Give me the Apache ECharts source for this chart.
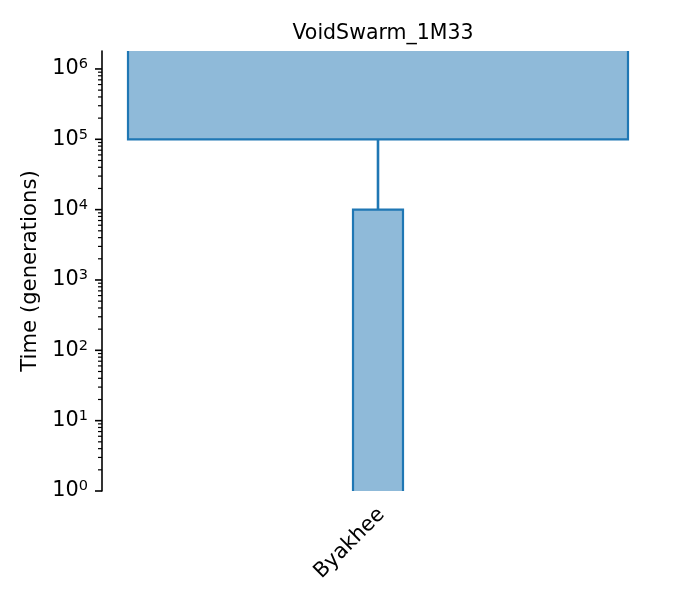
<!DOCTYPE html>
<html>
<head>
<meta charset="utf-8">
<script src="https://cdn.jsdelivr.net/npm/echarts@6/dist/echarts.min.js"></script>
<style>
  html, body { margin: 0; padding: 0; background: #fff; }
  #chart { width: 675px; height: 600px; }
</style>
</head>
<body>
<div id="chart"></div>
<script>
// demes (ancestor first), times in generations ago
const demeNames = ['ancestral', 'Byakhee'];
const demeX = [0, 0];
const demeSize = [10000, 1000];
const demeStartTime = [Infinity, 10000];
const demeEndTime = [100000, 0];
// ancestry link parent -> child
const linkParent = [0];
const linkChild = [1];
// axis
const tickLabelNames = ['Byakhee'];
const yMin = 1;
const yMax = 1.8e6;
const xMin = -5520;
const xMax = 5520;

const fill = '#8fbad9';
const edge = '#1f77b4';
const font = 'DejaVu Sans';

// major / minor ticks on the log axis
const majorTicks = [];
const minorTicks = [];
for (let e = 0; e <= 6; e++) {
    majorTicks.push(Math.pow(10, e));
    for (let m = 2; m <= 9; m++) {
        const v = m * Math.pow(10, e);
        if (v <= yMax) minorTicks.push(v);
    }
}

const chart = echarts.init(document.getElementById('chart'));

const demeData = demeNames.map((n, i) => [
    demeX[i],
    demeSize[i],
    Math.min(demeStartTime[i], yMax),
    Math.max(demeEndTime[i], yMin),
    demeStartTime[i] === Infinity ? 1 : 0,
    demeEndTime[i] === 0 ? 1 : 0
]);

const linkData = [];
linkParent.forEach((p, i) => {
    const c = linkChild[i];
    linkData.push([demeX[p], demeEndTime[p]]);
    linkData.push([demeX[c], demeStartTime[c]]);
});

const tickData = majorTicks.map(v => [v, 1]).concat(minorTicks.map(v => [v, 0]));

const option = {
    animation: false,
    title: {
        text: 'VoidSwarm_1M33',
        left: 378,
        top: 18,
        textAlign: 'center',
        textStyle: { fontFamily: font, fontSize: 20.5, fontWeight: 'normal', color: '#000' }
    },
    grid: { left: 102, right: 21, top: 51, bottom: 109 },
    xAxis: {
        type: 'value',
        min: xMin,
        max: xMax,
        interval: xMax,
        axisLine: { show: false },
        axisTick: { show: false },
        splitLine: { show: false },
        axisLabel: {
            rotate: 45,
            margin: 24,
            padding: [0, -5, 0, 0],
            fontFamily: font,
            fontSize: 20.8,
            color: '#000',
            formatter: v => (v === demeX[1] ? tickLabelNames[0] : '')
        }
    },
    yAxis: {
        type: 'log',
        logBase: 10,
        min: yMin,
        max: yMax,
        name: 'Time (generations)',
        nameLocation: 'middle',
        nameGap: 54,
        nameTextStyle: { fontFamily: font, fontSize: 21.2, color: '#000' },
        axisLine: { show: true, onZero: false, lineStyle: { color: '#000', width: 1.6 } },
        axisTick: { show: false },
        splitLine: { show: false },
        axisLabel: {
            margin: 14,
            showMaxLabel: false,
            formatter: v => {
                const l = Math.log10(v);
                const e = Math.round(l);
                if (Math.abs(l - e) > 1e-6) return '';
                return '{b|10}{s|' + e + '}';
            },
            rich: {
                b: { fontFamily: font, fontSize: 20.8, color: '#000', lineHeight: 24, verticalAlign: 'middle' },
                s: { fontFamily: font, fontSize: 14.5, color: '#000', lineHeight: 14, verticalAlign: 'top' }
            }
        }
    },
    series: [
        {
            type: 'custom',
            name: 'demes',
            data: demeData,
            renderItem: (params, api) => {
                const x = api.value(0), w = api.value(1);
                const top = api.value(2), bot = api.value(3);
                const openTop = api.value(4), openBot = api.value(5);
                const tl = api.coord([x - w / 2, top]);
                const br = api.coord([x + w / 2, bot]);
                const l = tl[0], r = br[0], t = tl[1], b = br[1];
                let pts;
                if (openTop) pts = [[l, t], [l, b], [r, b], [r, t]];
                else if (openBot) pts = [[l, b], [l, t], [r, t], [r, b]];
                else pts = [[l, t], [l, b], [r, b], [r, t], [l, t]];
                return {
                    type: 'group',
                    children: [
                        { type: 'rect', shape: { x: l, y: t, width: r - l, height: b - t }, style: { fill: fill } },
                        { type: 'polyline', shape: { points: pts }, style: { fill: 'none', stroke: edge, lineWidth: 2.2 } }
                    ]
                };
            }
        },
        {
            type: 'line',
            name: 'ancestry',
            data: linkData,
            symbol: 'none',
            lineStyle: { color: edge, width: 2.6 }
        },
        {
            type: 'custom',
            name: 'ticks',
            data: tickData,
            silent: true,
            renderItem: (params, api) => {
                const p = api.coord([xMin, api.value(0)]);
                const major = api.value(1) === 1;
                const len = major ? 7 : 4;
                return {
                    type: 'line',
                    shape: { x1: p[0] - len, y1: p[1], x2: p[0], y2: p[1] },
                    style: { stroke: '#000', lineWidth: major ? 1.6 : 1.2 }
                };
            }
        }
    ]
};
chart.setOption(option);
</script>
</body>
</html>
